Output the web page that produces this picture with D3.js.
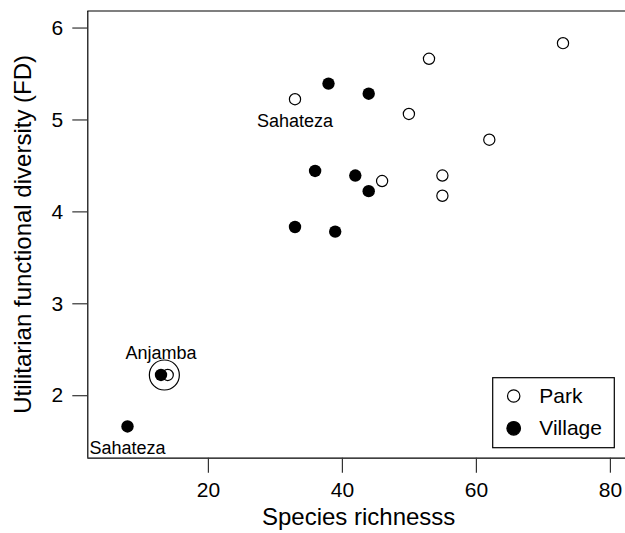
<!DOCTYPE html>
<html>
<head>
<meta charset="utf-8">
<script src="https://cdn.jsdelivr.net/npm/d3@7"></script>
<style>
  html, body { margin: 0; padding: 0; background: #fff; overflow: hidden; }
  svg { display: block; font-family: "Liberation Sans", Arial, Helvetica, sans-serif; }
</style>
</head>
<body>
<svg id="chart" width="625" height="533"></svg>
<script>
// Park sites (open circles)
var parkRichness = [73, 53, 50, 62, 55, 55, 46, 33, 14];
var parkFD = [5.83, 5.66, 5.06, 4.78, 4.39, 4.17, 4.33, 5.22, 2.22];

// Village sites (filled circles)
var villageRichness = [38, 44, 36, 42, 44, 39, 33, 8, 13];
var villageFD = [5.39, 5.28, 4.44, 4.39, 4.22, 3.78, 3.83, 1.66, 2.22];

// site labels: which series / index, and side of point
var labelNames = ["Sahateza", "Sahateza", "Anjamba"];
var labelSeries = ["park", "village", "village"];
var labelIndex = [7, 7, 8];
var labelSide = ["below", "below", "above"];

var xTicks = [20, 40, 60, 80];
var yTicks = [2, 3, 4, 5, 6];
var legendNames = ["Park", "Village"];

var margin = {left: 87.3, top: 11, right: 630, bottom: 457.7};

var svg = d3.select("#chart");

var xScale = d3.scaleLinear().domain([2, 83]).range([margin.left, margin.right]);
var yScale = d3.scaleLinear().domain([1.32, 6.18]).range([margin.bottom, margin.top]);

// top of the plot box (greyish in the original, right side is off the picture)
svg.append("line")
    .attr("x1", margin.left).attr("x2", 625)
    .attr("y1", margin.top).attr("y2", margin.top)
    .attr("stroke", "#555").attr("stroke-width", 1.6);

// axes
var xAxis = d3.axisBottom(xScale).tickValues(xTicks).tickSize(15).tickPadding(9.5)
    .tickSizeOuter(0).tickFormat(d3.format("d"));
var yAxis = d3.axisLeft(yScale).tickValues(yTicks).tickSize(15).tickPadding(9)
    .tickSizeOuter(0).tickFormat(d3.format("d"));

var gx = svg.append("g")
    .attr("transform", "translate(0," + margin.bottom + ")")
    .call(xAxis);
var gy = svg.append("g")
    .attr("transform", "translate(" + margin.left + ",0)")
    .call(yAxis);

[gx, gy].forEach(function(g) {
    g.select(".domain").attr("stroke", "#000").attr("stroke-width", 1.2);
    g.selectAll(".tick line").attr("stroke", "#333").attr("stroke-width", 1.2);
    g.selectAll(".tick text")
        .attr("fill", "#000")
        .style("font-size", "21px")
        .style("font-family", "'Liberation Sans', Arial, sans-serif");
});
// domain paths cover whole range
gx.select(".domain").attr("d", "M" + margin.left + ",0.5H625");
gy.select(".domain").attr("d", "M0.5," + margin.bottom + "V" + margin.top);

// axis titles
svg.append("text")
    .attr("x", (margin.left + margin.right) / 2)
    .attr("y", 525)
    .attr("text-anchor", "middle")
    .style("font-size", "24px")
    .text("Species richnesss");

svg.append("text")
    .attr("transform", "translate(31," + (margin.top + margin.bottom) / 2 + ") rotate(-90)")
    .attr("text-anchor", "middle")
    .style("font-size", "24px")
    .text("Utilitarian functional diversity (FD)");

// points
var park = parkRichness.map(function(d, i) { return {x: d, y: parkFD[i]}; });
var village = villageRichness.map(function(d, i) { return {x: d, y: villageFD[i]}; });

svg.selectAll(".park")
    .data(park)
    .enter().append("circle")
    .attr("class", "park")
    .attr("cx", function(d) { return xScale(d.x); })
    .attr("cy", function(d) { return yScale(d.y); })
    .attr("r", 5.6)
    .attr("fill", "#fff")
    .attr("stroke", "#000")
    .attr("stroke-width", 1.2);

svg.selectAll(".village")
    .data(village)
    .enter().append("circle")
    .attr("class", "village")
    .attr("cx", function(d) { return xScale(d.x); })
    .attr("cy", function(d) { return yScale(d.y); })
    .attr("r", 6.2)
    .attr("fill", "#000");

// ring round the two Anjamba sites
var anj = [park[8], village[8]];
svg.append("circle")
    .attr("cx", xScale(d3.mean(anj, function(d) { return d.x; })))
    .attr("cy", yScale(d3.mean(anj, function(d) { return d.y; })))
    .attr("r", 15)
    .attr("fill", "none")
    .attr("stroke", "#000")
    .attr("stroke-width", 1.2);

// site labels
labelNames.forEach(function(name, i) {
    var p = (labelSeries[i] == "park" ? park : village)[labelIndex[i]];
    svg.append("text")
        .attr("x", xScale(p.x))
        .attr("y", yScale(p.y) + (labelSide[i] == "below" ? 28 : -15.5))
        .attr("text-anchor", "middle")
        .style("font-size", "18px")
        .text(name);
});

// legend
var legend = svg.append("g").attr("transform", "translate(492.7,377.7)");
legend.append("rect")
    .attr("width", 121.6).attr("height", 70)
    .attr("fill", "#fff").attr("stroke", "#000").attr("stroke-width", 1.2);

legendNames.forEach(function(name, i) {
    var cy = 18.3 + i * 32.3;
    legend.append("circle")
        .attr("cx", 21).attr("cy", cy)
        .attr("r", i == 0 ? 6.2 : 6.8)
        .attr("fill", i == 0 ? "#fff" : "#000")
        .attr("stroke", "#000").attr("stroke-width", 1.2);
    legend.append("text")
        .attr("x", 46.6).attr("y", cy)
        .attr("dy", "0.33em")
        .style("font-size", "21px")
        .text(name);
});
</script>
</body>
</html>
